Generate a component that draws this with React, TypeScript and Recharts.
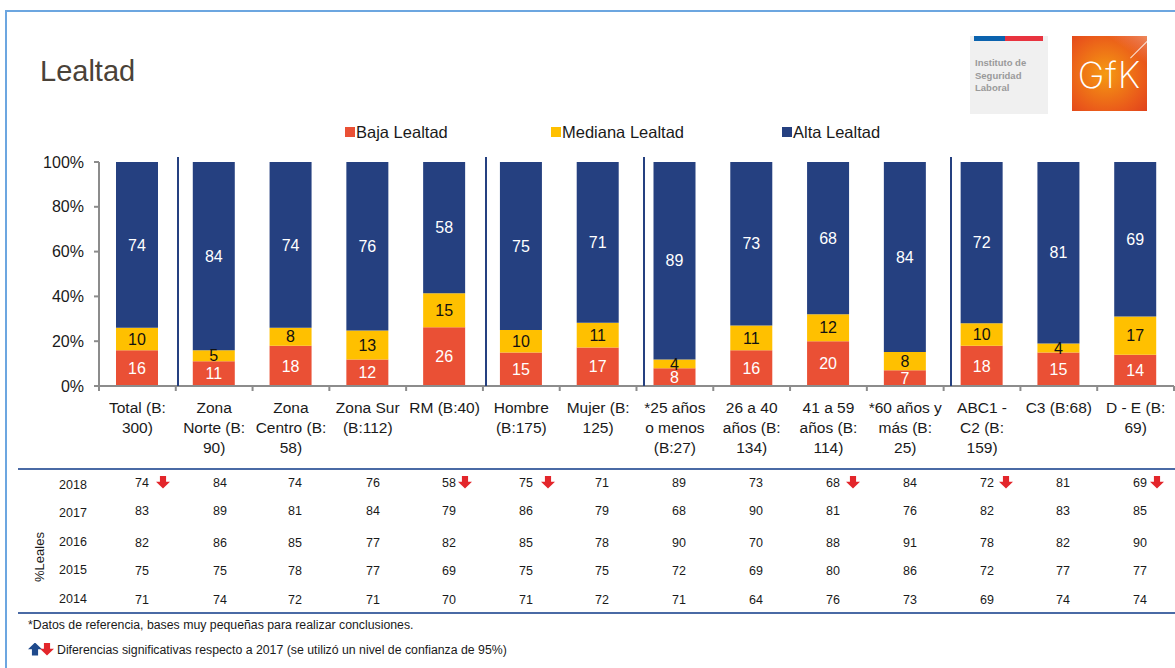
import React from 'react';
import { BarChart, Bar, XAxis, YAxis, Legend, LabelList } from 'recharts';

// categories, "|" marks the line breaks of the axis labels
const categories = [
  'Total (B:|300)', 'Zona|Norte (B:|90)', 'Zona|Centro (B:|58)', 'Zona Sur|(B:112)', 'RM (B:40)',
  'Hombre|(B:175)', 'Mujer (B:|125)', '*25 años|o menos|(B:27)', '26 a 40|años (B:|134)',
  '41 a 59|años (B:|114)', '*60 años y|más (B:|25)', 'ABC1 -|C2 (B:|159)', 'C3 (B:68)', 'D - E (B:|69)',
];
const baja = [16, 11, 18, 12, 26, 15, 17, 8, 16, 20, 7, 18, 15, 14];
const mediana = [10, 5, 8, 13, 15, 10, 11, 4, 11, 12, 8, 10, 4, 17];
const alta = [74, 84, 74, 76, 58, 75, 71, 89, 73, 68, 84, 72, 81, 69];

const years = ['2018', '2017', '2016', '2015', '2014'];
const leales = [
  [74, 84, 74, 76, 58, 75, 71, 89, 73, 68, 84, 72, 81, 69],
  [83, 89, 81, 84, 79, 86, 79, 68, 90, 81, 76, 82, 83, 85],
  [82, 86, 85, 77, 82, 85, 78, 90, 70, 88, 91, 78, 82, 90],
  [75, 75, 78, 77, 69, 75, 75, 72, 69, 80, 86, 72, 77, 77],
  [71, 74, 72, 71, 70, 71, 72, 71, 64, 76, 73, 69, 74, 74],
];
const yTicks = [0, 0.2, 0.4, 0.6, 0.8, 1];

const chartData = categories.map((name, i) => ({ name, baja: baja[i], mediana: mediana[i], alta: alta[i] }));

const FONT = '"Liberation Sans", Arial, sans-serif';
const RED = '#EA5035';
const YELLOW = '#FFC000';
const BLUE = '#254080';
const AXIS = '#8c8c8c';
const STEP = 76.8;

// layout of the slide around the chart
const colX = [142, 220, 295, 373, 449, 526, 602, 679, 756, 833, 910, 987, 1063, 1140];
const rowY = [483, 511, 543, 571, 600];
const yearY = [485, 513, 542, 570, 599];
const downArrows = [163, 465, 548, 853, 1006, 1157];
const separators = [178, 486, 644, 951];
const legendX: Record<string, number> = { 'Baja Lealtad': 345, 'Mediana Lealtad': 551, 'Alta Lealtad': 782 };

function CategoryTick({ x, y, payload, index }: any) {
  const lines = String(payload.value).split('|');
  return (
    <g>
      <line x1={x - STEP / 2} x2={x - STEP / 2} y1={y} y2={y + 5} stroke={AXIS} strokeWidth={2} />
      {index === categories.length - 1 && (
        <line x1={x + STEP / 2} x2={x + STEP / 2} y1={y} y2={y + 5} stroke={AXIS} strokeWidth={2} />
      )}
      <text x={x} y={y + 27} textAnchor="middle" fontSize={15.5} fontFamily={FONT} fill="#1a1a1a">
        {lines.map((l: string, i: number) => (
          <tspan key={i} x={x} dy={i === 0 ? 0 : 20}>{l}</tspan>
        ))}
      </text>
    </g>
  );
}

function TopLegend({ payload }: any) {
  return (
    <div>
      {(payload || []).map((p: any) => (
        <div key={p.value} style={{ position: 'absolute', left: legendX[p.value], top: 122, height: 20, display: 'flex', alignItems: 'center', fontFamily: FONT, fontSize: 16.5, color: '#1a1a1a' }}>
          <span style={{ width: 10, height: 10, background: p.color, marginRight: 1 }} />
          {p.value}
        </div>
      ))}
    </div>
  );
}

function Arrow({ cx, cy, color, up = false }: { cx: number; cy: number; color: string; up?: boolean }) {
  const w = 14;
  const h = 13;
  return (
    <div style={{
      position: 'absolute', left: cx - w / 2, top: cy - h / 2, width: w, height: h, background: color,
      clipPath: up
        ? 'polygon(50% 0, 100% 52%, 72% 52%, 72% 100%, 28% 100%, 28% 52%, 0 52%)'
        : 'polygon(28% 0, 72% 0, 72% 48%, 100% 48%, 50% 100%, 0 48%, 28% 48%)',
    }} />
  );
}

function Abs({ x, y, size = 12.5, color = '#1a1a1a', center = true, children }: any) {
  return (
    <div style={{
      position: 'absolute', left: x, top: y, whiteSpace: 'nowrap', fontFamily: FONT, fontSize: size, color,
      lineHeight: 1, transform: center ? 'translate(-50%, -50%)' : 'translateY(-50%)',
    }}>{children}</div>
  );
}

export default function App() {
  return (
    <div style={{ position: 'absolute', left: 0, top: 0, width: 1175, height: 668, overflow: 'hidden', background: '#fff' }}>
      {/* slide frame */}
      <div style={{ position: 'absolute', left: 5, top: 10, width: 1175, height: 700, border: '2px solid #6CA6E0', boxSizing: 'border-box' }} />

      <Abs x={40} y={71} size={29} color="#4a4238" center={false}>Lealtad</Abs>

      {/* logos */}
      <div style={{ position: 'absolute', left: 970, top: 36, width: 78, height: 78, background: '#f0f0f0' }}>
        <div style={{ position: 'absolute', left: 4, top: 0, width: 31, height: 5, background: '#0b63ae' }} />
        <div style={{ position: 'absolute', left: 35, top: 0, width: 38, height: 5, background: '#e8333f' }} />
        <div style={{ position: 'absolute', left: 5, top: 21, fontFamily: FONT, fontWeight: 700, fontSize: 9.5, lineHeight: '12.5px', color: '#9a9a9a' }}>
          Instituto de<br />Seguridad<br />Laboral
        </div>
      </div>
      <div style={{ position: 'absolute', left: 1072, top: 36, width: 75, height: 75, overflow: 'hidden', background: 'linear-gradient(215deg, #ee8a5c 0%, rgba(238,138,92,0) 22%), radial-gradient(circle at 45% 50%, #f59a12 0%, #ea5a1a 70%, #e0421c 100%)' }}>
        <div style={{ position: 'absolute', left: 54, top: 11, width: 30, height: 1, background: '#fff', transform: 'rotate(-45deg)', opacity: 0.8 }} />
        <div style={{ position: 'absolute', left: 0, right: 0, top: 19, textAlign: 'center', fontFamily: 'Inter', fontWeight: 200, fontSize: 36, lineHeight: '40px', color: '#fff', letterSpacing: 1 }}>GfK</div>
      </div>

      <div style={{ position: 'absolute', left: 0, top: 0 }}>
        <BarChart width={1175} height={470} data={chartData} stackOffset="expand" margin={{ top: 162, right: 1, bottom: 0, left: 0 }}>
          <XAxis dataKey="name" interval={0} height={84} tickSize={0} tickMargin={0} tick={<CategoryTick />} tickLine={false} axisLine={{ stroke: AXIS, strokeWidth: 2 }} />
          <YAxis
            width={99}
            domain={[0, 1]}
            ticks={yTicks}
            tickFormatter={(v: number) => `${Math.round(v * 100)}%`}
            tick={{ fontSize: 16, fontFamily: FONT, fill: '#1a1a1a' }}
            tickSize={5}
            tickMargin={10}
            tickLine={{ stroke: AXIS, strokeWidth: 2 }}
            axisLine={{ stroke: AXIS, strokeWidth: 2 }}
          />
          <Legend content={<TopLegend />} itemSorter={null} wrapperStyle={{ position: 'absolute', left: 0, top: 0, width: 1175, height: 0 }} />
          <Bar dataKey="baja" name="Baja Lealtad" stackId="a" fill={RED} barSize={42} isAnimationActive={false}>
            <LabelList dataKey="baja" position="center" fill="#fff" fontSize={16} fontFamily={FONT} />
          </Bar>
          <Bar dataKey="mediana" name="Mediana Lealtad" stackId="a" fill={YELLOW} barSize={42} isAnimationActive={false}>
            <LabelList dataKey="mediana" position="center" fill="#111" fontSize={16} fontFamily={FONT} />
          </Bar>
          <Bar dataKey="alta" name="Alta Lealtad" stackId="a" fill={BLUE} barSize={42} isAnimationActive={false}>
            <LabelList dataKey="alta" position="center" fill="#fff" fontSize={16} fontFamily={FONT} />
          </Bar>
        </BarChart>
      </div>

      {separators.map((x) => (
        <div key={x} style={{ position: 'absolute', left: x - 1, top: 157, width: 2, height: 229, background: BLUE }} />
      ))}

      {/* year table */}
      <div style={{ position: 'absolute', left: 18, top: 468, width: 1157, height: 2, background: '#4a6aa5' }} />
      <div style={{ position: 'absolute', left: 18, top: 612, width: 1157, height: 2, background: '#4a6aa5' }} />
      <div style={{ position: 'absolute', left: 39, top: 557, transform: 'translate(-50%, -50%) rotate(-90deg)', fontFamily: FONT, fontSize: 13, color: '#1a1a1a', whiteSpace: 'nowrap' }}>%Leales</div>
      {years.map((year, r) => (
        <React.Fragment key={year}>
          <Abs x={73} y={yearY[r]}>{year}</Abs>
          {leales[r].map((v, c) => (
            <Abs key={c} x={colX[c]} y={rowY[r]}>{v}</Abs>
          ))}
        </React.Fragment>
      ))}
      {downArrows.map((x) => <Arrow key={x} cx={x} cy={482} color="#E3262B" />)}

      <Abs x={28} y={625} size={12.3} center={false}>*Datos de referencia, bases muy pequeñas para realizar conclusiones.</Abs>
      <Arrow cx={35} cy={649} color="#1F4A8C" up />
      <Arrow cx={47} cy={649} color="#E3262B" />
      <Abs x={57} y={650} size={12.3} center={false}>Diferencias significativas respecto a 2017 (se utilizó un nivel de confianza de 95%)</Abs>
    </div>
  );
}
